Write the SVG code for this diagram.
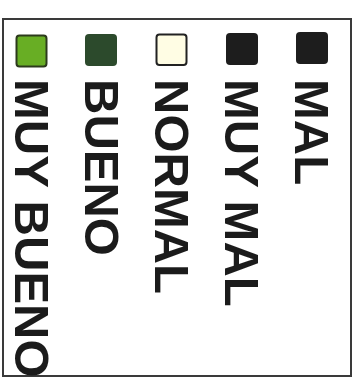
<svg xmlns="http://www.w3.org/2000/svg" width="359" height="380" viewBox="0 0 359 380">
<style>
.lbl{font-family:"Liberation Sans",Arial,sans-serif;font-weight:bold;font-size:49px;fill:#1b1b1b}
.sw{stroke-width:2}
</style>
<rect x="0" y="0" width="359" height="380" fill="#ffffff"/>
<rect id="frame" x="3" y="19" width="348" height="357" fill="#ffffff" stroke="#3a3a3a" stroke-width="2"/>
<g id="connectors"></g>
<g id="item-muy-bueno">
<rect x="16.5" y="35.5" width="30" height="31" rx="3" fill="#68ae24" stroke="#2c3a1c" class="sw"/>
<text class="lbl" transform="translate(15,79) rotate(90)">MUY BUENO</text>
</g>
<g id="item-bueno">
<rect x="85" y="34" width="32" height="32" rx="4" fill="#2c4a2c"/>
<text class="lbl" transform="translate(85,79) rotate(90)">BUENO</text>
</g>
<g id="item-normal">
<rect x="156.5" y="34.5" width="30" height="30.5" rx="3" fill="#fffde4" stroke="#222" class="sw"/>
<text class="lbl" transform="translate(155,79) rotate(90)">NORMAL</text>
</g>
<g id="item-muy-mal">
<rect x="226" y="33" width="32" height="32" rx="4" fill="#1d1d1d"/>
<text class="lbl" transform="translate(225,79) rotate(90)">MUY MAL</text>
</g>
<g id="item-mal">
<rect x="296" y="32" width="32" height="32" rx="4" fill="#1d1d1d"/>
<text class="lbl" transform="translate(295,79) rotate(90)">MAL</text>
</g>
</svg>
